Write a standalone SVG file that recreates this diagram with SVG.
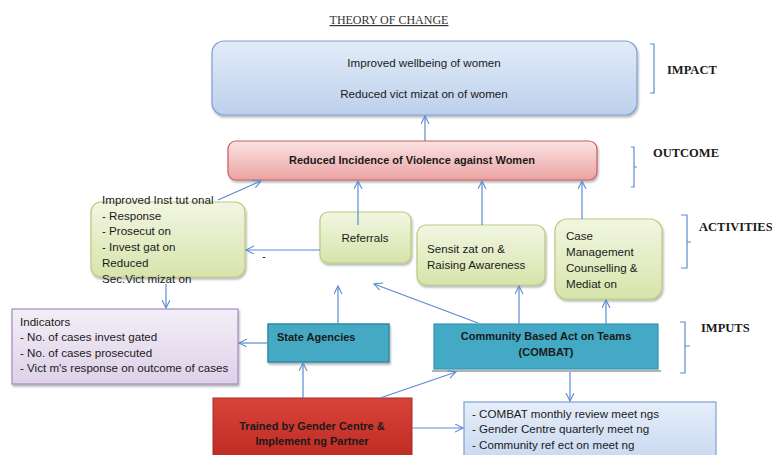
<svg xmlns="http://www.w3.org/2000/svg" width="772" height="455" viewBox="0 0 772 455">
<defs>
<linearGradient id="gBlue" x1="0" y1="0" x2="0" y2="1"><stop offset="0" stop-color="#e3ecf8"/><stop offset="1" stop-color="#bcd0ec"/></linearGradient>
<linearGradient id="gPink" x1="0" y1="0" x2="0" y2="1"><stop offset="0" stop-color="#fbe3e3"/><stop offset="1" stop-color="#eaa3a2"/></linearGradient>
<linearGradient id="gGreen" x1="0" y1="0" x2="0" y2="1"><stop offset="0" stop-color="#f2f6e2"/><stop offset="1" stop-color="#d7e4ab"/></linearGradient>
<linearGradient id="gPurple" x1="0" y1="0" x2="0" y2="1"><stop offset="0" stop-color="#f3eef7"/><stop offset="1" stop-color="#ddd1e9"/></linearGradient>
<linearGradient id="gRed" x1="0" y1="0" x2="0" y2="1"><stop offset="0" stop-color="#d9443a"/><stop offset="1" stop-color="#bd2a22"/></linearGradient>
<linearGradient id="gBlue2" x1="0" y1="0" x2="0" y2="1"><stop offset="0" stop-color="#e6eef9"/><stop offset="1" stop-color="#c9d9f0"/></linearGradient>
<filter id="sh" x="-5%" y="-5%" width="110%" height="120%"><feDropShadow dx="1" dy="2" stdDeviation="1.2" flood-color="#000" flood-opacity="0.3"/></filter>
<marker id="arr" markerWidth="10" markerHeight="10" refX="8" refY="4" orient="auto" markerUnits="userSpaceOnUse"><path d="M0,0 L8,4 L0,8" fill="none" stroke="#5b8bd0" stroke-width="1.1"/></marker>
</defs>
<style>
.t{font-family:"Liberation Sans",Arial,sans-serif;font-size:11.6px;fill:#1a1a1a}
.b{font-weight:bold;font-size:11px}
.h{font-family:"Liberation Serif","Times New Roman",serif;font-size:12.5px;font-weight:bold;fill:#1a1a1a}
.c{fill:none;stroke:#5b8bd0;stroke-width:1.2}
.br{fill:none;stroke:#5b8bd0;stroke-width:1.2}
</style>
<rect width="772" height="455" fill="#ffffff"/>
<text x="389" y="24" text-anchor="middle" font-family="Liberation Serif,serif" font-size="12" fill="#333" text-decoration="underline">THEORY OF CHANGE</text>

<g id="impact">
<rect x="212" y="41" width="425" height="74" rx="12" fill="url(#gBlue)" stroke="#7d9fd3" stroke-width="1.2" filter="url(#sh)"/>
<text class="t" x="424" y="67" text-anchor="middle">Improved wellbeing of women</text>
<text class="t" x="424" y="98" text-anchor="middle">Reduced vict mizat on of women</text>
</g>
<g id="outcome">
<rect x="228" y="141" width="369" height="39" rx="8" fill="url(#gPink)" stroke="#c8605d" stroke-width="1.2" filter="url(#sh)"/>
<text class="t b" x="412" y="164" text-anchor="middle">Reduced Incidence of Violence against Women</text>
</g>
<g id="institutional">
<rect x="91" y="202" width="154" height="75" rx="10" fill="url(#gGreen)" stroke="#b8cb7e" stroke-width="1.2" filter="url(#sh)"/>
<text class="t" x="102" y="204">Improved Inst tut onal</text>
<text class="t" x="102" y="220">- Response</text>
<text class="t" x="102" y="235">- Prosecut on</text>
<text class="t" x="102" y="251">- Invest gat on</text>
<text class="t" x="102" y="267">Reduced</text>
<text class="t" x="102" y="283">Sec.Vict mizat on</text>
</g>
<g id="referrals">
<rect x="320" y="212" width="91" height="51" rx="8" fill="url(#gGreen)" stroke="#b8cb7e" stroke-width="1.2" filter="url(#sh)"/>
<text class="t" x="365" y="242" text-anchor="middle">Referrals</text>
</g>
<g id="sensitization">
<rect x="417" y="225" width="128" height="60" rx="9" fill="url(#gGreen)" stroke="#b8cb7e" stroke-width="1.2" filter="url(#sh)"/>
<text class="t" x="427" y="253">Sensit zat on &amp;</text>
<text class="t" x="427" y="269">Raising Awareness</text>
</g>
<g id="casemgmt">
<rect x="555" y="219" width="107" height="80" rx="12" fill="url(#gGreen)" stroke="#b8cb7e" stroke-width="1.2" filter="url(#sh)"/>
<text class="t" x="566" y="240">Case</text>
<text class="t" x="566" y="256">Management</text>
<text class="t" x="566" y="272">Counselling &amp;</text>
<text class="t" x="566" y="288">Mediat on</text>
</g>
<g id="indicators">
<rect x="12" y="309" width="226" height="75" fill="url(#gPurple)" stroke="#a08cbc" stroke-width="1.2" filter="url(#sh)"/>
<text class="t" x="20" y="326">Indicators</text>
<text class="t" x="20" y="341">- No. of cases invest gated</text>
<text class="t" x="20" y="357">- No. of cases prosecuted</text>
<text class="t" x="20" y="372">- Vict m's response on outcome of cases</text>
</g>
<g id="state">
<rect x="268" y="324" width="121" height="38" fill="#44a9c4" stroke="#2f8aa6" stroke-width="1.5" filter="url(#sh)"/>
<text class="t b" x="277" y="341">State Agencies</text>
</g>
<g id="combat">
<line x1="432" y1="371" x2="661" y2="371" stroke="#999" stroke-width="1.5"/>
<rect x="434" y="324" width="224" height="45" fill="#44a9c4" stroke="#3596b2" stroke-width="1.2"/>
<text class="t b" x="546" y="340" text-anchor="middle">Community Based Act on Teams</text>
<text class="t b" x="546" y="356" text-anchor="middle">(COMBAT)</text>
</g>
<g id="trained">
<rect x="213" y="398" width="199" height="62" fill="url(#gRed)" stroke="#a82a24" stroke-width="1"/>
<text class="t b" x="312" y="430" text-anchor="middle">Trained by Gender Centre &amp;</text>
<text class="t b" x="312" y="445" text-anchor="middle">Implement ng Partner</text>
</g>
<g id="meetings">
<rect x="464" y="402" width="252" height="58" fill="url(#gBlue2)" stroke="#7d9fd3" stroke-width="1.2"/>
<text class="t" x="472" y="418">- COMBAT monthly review meet ngs</text>
<text class="t" x="472" y="433">- Gender Centre quarterly meet ng</text>
<text class="t" x="472" y="449">- Community ref ect on meet ng</text>
</g>

<g id="labels">
<path class="br" d="M650,44 L654,44 L654,93 L650,93"/>
<text class="h" x="667" y="74">IMPACT</text>
<path class="br" d="M631,147 L634,147 L634,187 L631,187 M634,167 L637,167"/>
<text class="h" x="653" y="157">OUTCOME</text>
<path class="br" d="M681,215 L687,215 L687,268 L681,268 M687,242 L691,242"/>
<text class="h" x="699" y="231">ACTIVITIES</text>
<path class="br" d="M680,322 L685,322 L685,373 L680,373 M685,346 L690,346"/>
<text class="h" x="701" y="332">IMPUTS</text>
<text class="t" x="262" y="260">-</text>
</g>

<g id="connectors">
<line class="c" x1="425" y1="141" x2="425" y2="116" marker-end="url(#arr)"/>
<line class="c" x1="218" y1="200" x2="261" y2="181" marker-end="url(#arr)"/>
<line class="c" x1="358" y1="225" x2="358" y2="181" marker-end="url(#arr)"/>
<line class="c" x1="482" y1="225" x2="482" y2="181" marker-end="url(#arr)"/>
<line class="c" x1="582" y1="219" x2="582" y2="181" marker-end="url(#arr)"/>
<line class="c" x1="320" y1="250" x2="246" y2="250" marker-end="url(#arr)"/>
<line class="c" x1="166" y1="284" x2="166" y2="308" marker-end="url(#arr)"/>
<line class="c" x1="268" y1="343" x2="239" y2="343" marker-end="url(#arr)"/>
<line class="c" x1="338" y1="324" x2="338" y2="286" marker-end="url(#arr)"/>
<line class="c" x1="478" y1="323" x2="374" y2="284" marker-end="url(#arr)"/>
<line class="c" x1="519" y1="324" x2="519" y2="286" marker-end="url(#arr)"/>
<line class="c" x1="606" y1="324" x2="606" y2="300" marker-end="url(#arr)"/>
<line class="c" x1="570" y1="372" x2="570" y2="401" marker-end="url(#arr)"/>
<line class="c" x1="303" y1="398" x2="303" y2="363" marker-end="url(#arr)"/>
<line class="c" x1="380" y1="398" x2="456" y2="372" marker-end="url(#arr)"/>
<line class="c" x1="412" y1="428" x2="463" y2="428" marker-end="url(#arr)"/>
</g>
</svg>
